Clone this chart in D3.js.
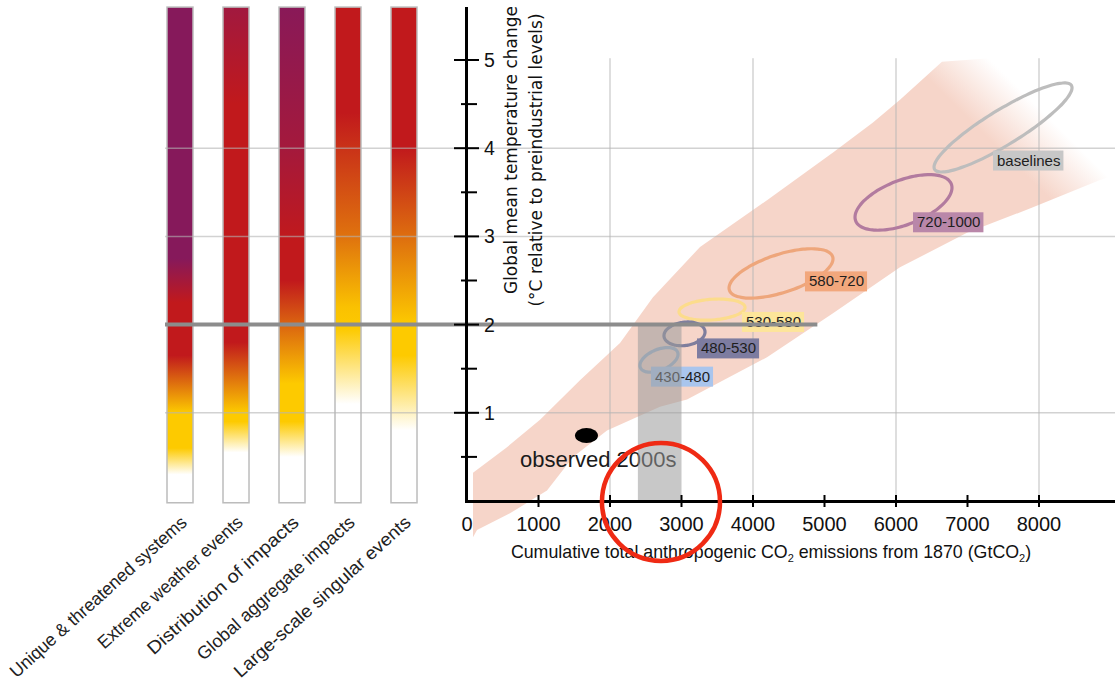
<!DOCTYPE html>
<html><head><meta charset="utf-8">
<script src="https://cdn.jsdelivr.net/npm/d3@7"></script>
<style>html,body{margin:0;padding:0;background:#fff;} svg{display:block;}</style>
</head><body>
<svg id="chart" width="1115" height="684"></svg>
<script>
// ---------------- data ----------------
const categories = ["Unique & threatened systems","Extreme weather events","Distribution of impacts","Global aggregate impacts","Large-scale singular events"];
// risk stops per category: [temperature °C, risk level] (0 = undetectable, 1 = moderate, 2 = high, 3 = very high)
const riskStops = [
  [[0.3,0],[0.6,1],[1.0,1],[1.65,2],[2.25,2],[2.75,3],[5.6,3]],
  [[0.55,0],[0.9,1],[1.0,1],[1.8,2],[4.5,2],[5.6,2.55]],
  [[0.5,0],[0.9,1],[1.33,1],[2.5,2],[2.95,2],[4.0,2.5],[5.6,2.95]],
  [[1.1,0],[1.95,1],[2.2,1.05],[3.0,1.5],[4.4,2],[5.6,2]],
  [[0.8,0],[1.65,1],[2.0,1],[2.95,1.5],[4.0,2],[5.6,2]]
];
const scenarioLabels = ["baselines","720-1000","580-720","530-580","480-530","430-480"];
const scenarioEmisRange = [[6532,8462],[5427,6783],[3665,5119],[2965,3889],[2755,3329],[2419,2951]];
const scenarioTempRange = [[3.73,4.74],[3.07,3.70],[2.30,2.86],[2.05,2.29],[1.76,2.03],[1.46,1.74]];
const scenarioTilt = [0.89,0.53,0.59,0.2,0.15,0.45];
const scenarioLabelAt = [[7357,3.86],[6238,3.16],[4727,2.49],[3846,2.03],[3217,1.73],[2573,1.41]];
// model spread band: upper edge then lower edge  [GtCO2, °C]
const bandUpper = [[84,0.32],[559,0.61],[1021,0.92],[1580,1.37],[2140,1.79],[2601,2.31],[3259,2.88],[4196,3.41],[5119,3.95],[5678,4.29],[6056,4.55],[6643,4.98],[7315,5.02],[9273,4.89],[9273,3.75]];
const bandLower = [[8853,3.64],[7916,3.33],[6993,3.04],[6056,2.65],[5119,2.13],[4196,1.63],[3077,1.15],[2699,1.07],[1958,0.80],[1483,0.50],[1119,0.12],[601,-0.14],[140,-0.33],[84,-0.41]];
const observed = [1671, 0.743];
const observedLabel = "observed 2000s";
const observedLabelAt = [741, 0.385];
const budgetRange = [2390, 3000];
const targetTemp = 2;
const targetLineEnd = 4900;
const highlightAt = [2713, -0.01];
const xTicks = [0,1000,2000,3000,4000,5000,6000,7000,8000];
const xGrid = [2000,4000,6000,8000];
const yTicks = [1,2,3,4,5];
const yMinor = [0.5,1.5,2.5,3.5,4.5];
const yGrid = [1,3,4];
const yTop = 5.6;

// ---------------- scales ----------------
const svg = d3.select("#chart");
const defs = svg.append("defs");
const x = d3.scaleLinear().domain([0,8000]).range([467,1039]);
const y = d3.scaleLinear().domain([0,5]).range([501,60]);
const barX = d3.scalePoint().domain(categories).range([180,404]);
const barW = 26;
const level = d3.scaleLinear().domain([0,1,2,3]).range(["#ffffff","#fdca00","#c1191c","#86195b"]).interpolate(d3.interpolateRgb);
const FONT = "'Liberation Sans', Arial, sans-serif";
const gridLeft = 165, rightEdge = 1115;

// ---------------- risk bars ----------------
const yBarBottom = -0.02;
categories.forEach((c,i)=>{
  const g = defs.append("linearGradient").attr("id","rg"+i)
    .attr("gradientUnits","userSpaceOnUse")
    .attr("x1",0).attr("x2",0).attr("y1",y(yBarBottom)).attr("y2",y(yTop));
  g.selectAll("stop").data(riskStops[i]).join("stop")
    .attr("offset",d=>(d[0]-yBarBottom)/(yTop-yBarBottom))
    .attr("stop-color",d=>level(d[1]));
});
svg.append("g").selectAll("rect").data(categories).join("rect")
  .attr("x",d=>barX(d)-barW/2).attr("y",y(yTop))
  .attr("width",barW).attr("height",y(yBarBottom)-y(yTop))
  .attr("fill",(d,i)=>"url(#rg"+i+")")
  .attr("stroke","#bcbcbc").attr("stroke-width",1.5);

// ---------------- band ----------------
const fade = defs.append("linearGradient").attr("id","bandFade").attr("gradientUnits","userSpaceOnUse")
  .attr("x1",x(6895)).attr("y1",y(4.43)).attr("x2",x(7455)).attr("y2",y(4.89));
fade.append("stop").attr("offset",0).attr("stop-color","#f6d5c9").attr("stop-opacity",1);
fade.append("stop").attr("offset",1).attr("stop-color","#f6d5c9").attr("stop-opacity",0);
const poly = d3.line().x(d=>x(d[0])).y(d=>y(d[1])).curve(d3.curveLinearClosed);
svg.append("path").attr("d",poly(bandUpper.concat(bandLower))).attr("fill","url(#bandFade)");

// ---------------- grid ----------------
const grid = svg.append("g").attr("stroke","#b4b4b4").attr("stroke-opacity",0.6).attr("stroke-width",1.5);
grid.selectAll("line.h").data(yGrid).join("line").attr("class","h")
  .attr("x1",gridLeft).attr("x2",rightEdge).attr("y1",d=>y(d)).attr("y2",d=>y(d));
grid.selectAll("line.v").data(xGrid).join("line").attr("class","v")
  .attr("x1",d=>x(d)).attr("x2",d=>x(d)).attr("y1",y(0)).attr("y2",y(5.02));

// ---------------- scenario ellipses ----------------
const ellStroke = ["#bdbdbd","#b27b9f","#eea67b","#fcdc8c","#7f7e9d","#9fb4ce"];
const boxFill = ["#c7c7c7","#b987a9","#f2a77c","#fde59a","#7d7ca0","#a9c5ed"];
const ellLine = d3.line().x(d=>x(d[0])).y(d=>y(d[1])).curve(d3.curveCardinalClosed);
scenarioLabels.forEach((lab,i)=>{
  const [e0,e1] = scenarioEmisRange[i], [t0,t1] = scenarioTempRange[i];
  const ce=(e0+e1)/2, ct=(t0+t1)/2, he=(e1-e0)/2, ht=(t1-t0)/2, dl=Math.acos(scenarioTilt[i]);
  const pts = d3.range(0,72).map(k=>{const a=k/72*2*Math.PI; return [ce+he*Math.cos(a), ct+ht*Math.cos(a-dl)];});
  svg.append("path").attr("d",ellLine(pts)).attr("fill","none").attr("stroke",ellStroke[i]).attr("stroke-width",3.2);
});
scenarioLabels.forEach((lab,i)=>{
  const g = svg.append("g");
  const r = g.append("rect");
  const t = g.append("text").attr("x",x(scenarioLabelAt[i][0])+4).attr("y",y(scenarioLabelAt[i][1])+5)
    .attr("font-family",FONT).attr("font-size",15).attr("fill","#1e1e1e").text(lab);
  const w = t.node().getComputedTextLength();
  r.attr("x",x(scenarioLabelAt[i][0])).attr("y",y(scenarioLabelAt[i][1])-10).attr("width",w+7).attr("height",20).attr("fill",boxFill[i]);
});

// ---------------- observed ----------------
svg.append("ellipse").attr("cx",x(observed[0])).attr("cy",y(observed[1])).attr("rx",11.5).attr("ry",7.5).attr("fill","#000");
svg.append("text").attr("x",x(observedLabelAt[0])).attr("y",y(observedLabelAt[1]))
  .attr("font-family",FONT).attr("font-size",22).attr("fill","#1a1a1a").text(observedLabel);

// ---------------- budget bar & 2°C line ----------------
svg.append("rect").attr("x",x(budgetRange[0])).attr("width",x(budgetRange[1])-x(budgetRange[0]))
  .attr("y",y(targetTemp)).attr("height",y(0)-y(targetTemp)).attr("fill","#9a9a9a").attr("fill-opacity",0.55);
svg.append("line").attr("x1",gridLeft).attr("x2",x(targetLineEnd)).attr("y1",y(targetTemp)).attr("y2",y(targetTemp))
  .attr("stroke","#8c8c8c").attr("stroke-width",4);

// ---------------- axes ----------------
const ax = svg.append("g").attr("stroke","#000");
ax.append("line").attr("x1",x(0)-0.5).attr("x2",x(0)-0.5).attr("y1",y(yTop)).attr("y2",y(0)+2).attr("stroke-width",3);
ax.append("line").attr("x1",x(0)-2).attr("x2",rightEdge).attr("y1",y(0)+0.5).attr("y2",y(0)+0.5).attr("stroke-width",3);
ax.selectAll("line.ym").data(yTicks).join("line").attr("class","ym")
  .attr("x1",x(0)-13).attr("x2",x(0)+12).attr("y1",d=>y(d)).attr("y2",d=>y(d)).attr("stroke-width",2);
ax.selectAll("line.yn").data(yMinor).join("line").attr("class","yn")
  .attr("x1",x(0)-6).attr("x2",x(0)+10).attr("y1",d=>y(d)).attr("y2",d=>y(d)).attr("stroke-width",2);
ax.selectAll("line.xt").data(xTicks.filter(d=>d>0)).join("line").attr("class","xt")
  .attr("x1",d=>x(d)).attr("x2",d=>x(d)).attr("y1",y(0)-6).attr("y2",y(0)+6).attr("stroke-width",2);
svg.append("g").selectAll("text").data(yTicks).join("text")
  .attr("x",x(0)+17).attr("y",d=>y(d)+7).attr("font-family",FONT).attr("font-size",19.5).attr("fill","#111").text(d=>d);
svg.append("g").selectAll("text").data(xTicks).join("text")
  .attr("x",d=>x(d)).attr("y",531).attr("text-anchor","middle").attr("font-family",FONT).attr("font-size",20).attr("fill","#111").text(d=>d);

// axis titles
const xt = svg.append("text").attr("x",771).attr("y",558).attr("text-anchor","middle")
  .attr("font-family",FONT).attr("font-size",17.8).attr("fill","#111");
xt.append("tspan").text("Cumulative total anthropogenic CO");
xt.append("tspan").attr("font-size",11).attr("dy",4).text("2");
xt.append("tspan").attr("dy",-4).text(" emissions from 1870 (GtCO");
xt.append("tspan").attr("font-size",11).attr("dy",4).text("2");
xt.append("tspan").attr("dy",-4).text(")");
const yTitle = ["Global mean temperature change","(°C relative to preindustrial levels)"];
const yTitlePos = [[517,150],[542,160]];
yTitle.forEach((s,i)=>{
  svg.append("text").attr("transform",`translate(${yTitlePos[i][0]},${yTitlePos[i][1]}) rotate(-90)`)
    .attr("text-anchor","middle").attr("font-family","'DejaVu Sans', sans-serif").attr("font-size",17).attr("fill","#111").text(s);
});

// category labels
svg.append("g").selectAll("text").data(categories).join("text")
  .attr("transform",d=>`translate(${barX(d)+8},${524}) rotate(-42)`)
  .attr("text-anchor","end").attr("font-family",FONT).attr("font-size",18).attr("fill","#222")
  .attr("textLength",d=>d.length*8.55).attr("lengthAdjust","spacingAndGlyphs").text(d=>d);

// highlight circle
svg.append("ellipse").attr("cx",x(highlightAt[0])).attr("cy",y(highlightAt[1])).attr("rx",59).attr("ry",59)
  .attr("fill","none").attr("stroke","#ef2a14").attr("stroke-width",4.5);
</script>
</body></html>
